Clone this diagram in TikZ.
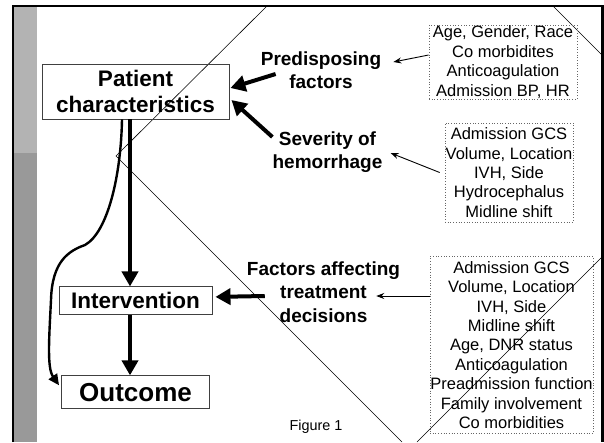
\documentclass[tikz,border=0pt]{standalone}
\usepackage{fontspec}
\setmainfont{Liberation Sans}
\usetikzlibrary{arrows.meta, calc, positioning}
\definecolor{barlight}{RGB}{179,179,179}
\definecolor{bardark}{RGB}{153,153,153}
\tikzstyle{mainbox} = [rectangle, draw=black!75, line width=0.9pt, inner sep=0pt, align=center, font=\fontsize{22.5}{26}\selectfont\bfseries]
\tikzstyle{factor} = [align=center, inner sep=0pt, font=\fontsize{19}{23.5}\selectfont\bfseries]
\tikzstyle{listbox} = [rectangle, draw=black!60, dotted, line width=0.7pt, inner sep=0pt, align=center, font=\fontsize{16.5}{19.4}\selectfont]
\tikzstyle{thickarrow} = [line width=4pt, -{Triangle[length=15pt, width=16pt]}]
\tikzstyle{thinarrow} = [line width=0.9pt, -{Stealth[length=8pt, width=6pt]}]
\tikzstyle{curvearrow} = [line width=2.4pt, -{Triangle[length=11pt, width=10pt]}]

\begin{document}
\begin{tikzpicture}[x=1pt, y=-1pt]
\useasboundingbox (0,0) rectangle (604,442);

% slide frame
\fill[barlight] (14,6) rectangle (37,153);
\fill[bardark] (14,153) rectangle (37,442);
\draw[line width=2pt] (13,442) -- (13,5);
\draw[line width=2.5pt] (12,6) -- (604,6);
\draw[line width=3pt] (602.5,5) -- (602.5,442);

% stray lines
\draw[line width=0.6pt] (267,6) -- (116,156) -- (402,442);
\draw[line width=0.6pt] (417,442) -- (602,257);
\draw[line width=0.6pt] (553,6) -- (602,55);

\node (pc) [mainbox, minimum width=187pt, minimum height=55pt] at (135.5,91.5) {Patient\\characteristics};
\node (iv) [mainbox, minimum width=153pt, minimum height=28pt, below=167pt of pc] {Intervention};
\node (oc) [mainbox, minimum width=148pt, minimum height=33pt, below=60pt of iv, font=\fontsize{26}{30}\selectfont\bfseries] {Outcome};

\node (pf) [factor] at (321,70) {Predisposing\\factors};
\node (sh) [factor] at (327.5,152) {Severity of\\hemorrhage};
\node (fa) [factor] at (323.5,292) {Factors affecting\\treatment\\decisions};

\node (b1) [listbox, minimum width=148pt, minimum height=74pt] at (503,62) {Age, Gender, Race\\Co morbidites\\Anticoagulation\\Admission BP, HR};
\node (b2) [listbox, minimum width=128pt, minimum height=99pt] at (509,172.5) {Admission GCS\\Volume, Location\\IVH, Side\\Hydrocephalus\\Midline shift};
\node (b3) [listbox, minimum width=163pt, minimum height=177pt] at (511.5,345) {Admission GCS\\Volume, Location\\IVH, Side\\Midline shift\\Age, DNR status\\Anticoagulation\\Preadmission function\\Family involvement\\Co morbidities};

\node (fig) [font=\fontsize{14.4}{17}\selectfont] at (316,427) {Figure 1};

\draw [thickarrow] ($(pf.west)+(15,4)$) -- ($(pc.east)+(1,-3.5)$);
\draw [thickarrow] ($(sh.west)+(0,-15)$) -- ($(pc.east)+(2,8.5)$);
\draw [thickarrow] ($(pc.south)+(-5.5,0)$) -- ($(iv.north)+(-5.5,0)$);
\draw [thickarrow] ($(iv.south)+(-5.5,0)$) -- ($(oc.north)+(-5.5,0)$);
\draw [thickarrow] ($(fa.west)+(18,4)$) -- ($(iv.east)+(3,-4)$);

\draw [thinarrow] ($(b1.west)+(0,-7)$) -- ($(pf.east)+(12,-8)$);
\draw [thinarrow] ($(b2.west)+(-5,0)$) -- ($(sh.east)+(8,1)$);
\draw [thinarrow] ($(b3.west)+(0,-49)$) -- ($(fa.east)+(-24,4)$);

\draw [curvearrow] ($(pc.south)+(-13.5,0)$) .. controls (121,175) and (108,232) .. (85,245)
  .. controls (68,251) and (52,262) .. (51,300) .. controls (49,340) and (47,368) .. ($(oc.west)+(-2,-7)$);

\end{tikzpicture}
\end{document}
